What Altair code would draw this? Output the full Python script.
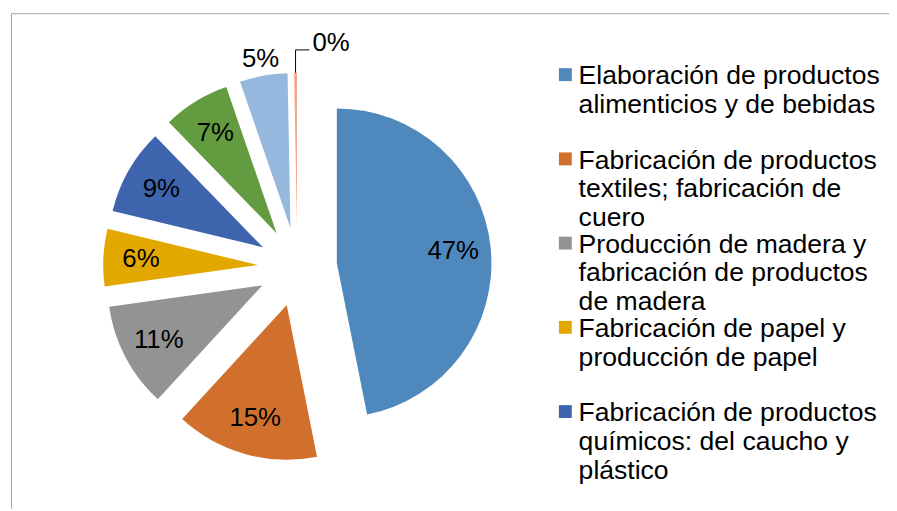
import altair as alt
import pandas as pd

# ---- data ----
categories = [
    "Elaboración de productos\nalimenticios y de bebidas",
    "Fabricación de productos\ntextiles; fabricación de\ncuero",
    "Producción de madera y\nfabricación de productos\nde madera",
    "Fabricación de papel y\nproducción de papel",
    "Fabricación de productos\nquímicos: del caucho y\nplástico",
    "Fabricación de productos minerales no metálicos",
    "Fabricación de metales comunes y productos metálicos",
    "Otras industrias manufactureras",
]
values = [47, 15, 11, 6, 9, 7, 5, 0.3]
colors = ["#4F88BD", "#D1702D", "#939393", "#E2A800",
          "#3E64AE", "#639B40", "#96B8DF", "#F3A48D"]
legend_shown = categories[:5]

# ---- style / layout constants ----
CX, CY = 292, 259      # pie centre (chart pixels)
R = 156                # pie radius
E = 40                 # explosion distance
LR = 118               # label radius inside slice
FONT = "Liberation Sans"

df = pd.DataFrame({"cat": categories, "value": values, "order": list(range(len(values)))})

base = alt.Chart(df).transform_joinaggregate(
    total="sum(value)"
).transform_window(
    cum="sum(value)", sort=[alt.SortField("order")], frame=[None, 0]
).transform_calculate(
    pct="datum.value / datum.total",
    t1="datum.cum / datum.total * 2 * PI",
    t0="(datum.cum - datum.value) / datum.total * 2 * PI",
).transform_calculate(
    mid="(datum.t0 + datum.t1) / 2",
).transform_calculate(
    cx=f"{CX} + {E} * sin(datum.mid)",
    cy=f"{CY} - {E} * cos(datum.mid)",
).transform_calculate(
    lr=f"datum.pct < 0.055 ? {R + 17} : {LR}",
    px=f"datum.cx + {R} * sin(datum.mid)",
    py=f"datum.cy - {R} * cos(datum.mid)",
).transform_calculate(
    lx="datum.cx + datum.lr * sin(datum.mid)",
    ly="datum.cy - datum.lr * cos(datum.mid)",
    qy="datum.py - 23",
    qx="datum.px + 14",
    tx="datum.px + 17",
    ty="datum.py - 30",
)

arcs = base.mark_arc(radius=R).encode(
    theta=alt.Theta("t0:Q", scale=None, stack=False),
    theta2="t1:Q",
    x=alt.X("cx:Q", scale=None, axis=None),
    y=alt.Y("cy:Q", scale=None, axis=None),
    color=alt.Color(
        "cat:N",
        scale=alt.Scale(domain=categories, range=colors),
        sort=None,
        legend=alt.Legend(
            title=None,
            orient="none",
            legendX=549,
            legendY=53.5,
            values=legend_shown,
            labelExpr="split(datum.label + (length(split(datum.label, '\\n')) < 3 ? '\\n ' : ''), '\\n')",
            labelFont=FONT,
            labelFontSize=26.8,
            labelBaseline="middle",
            labelColor="#000000",
            labelLimit=400,
            labelOffset=0,
            symbolType="M-1,-1.3H1V0.7H-1Z",
            symbolSize=169,
            symbolStrokeWidth=0,
            symbolOpacity=1,
            symbolOffset=0,
            rowPadding=0,
            padding=0,
        ),
    ),
)

labels = base.transform_filter("datum.pct >= 0.01").mark_text(
    font=FONT, fontSize=26, color="#000000", align="center", baseline="middle"
).encode(
    x=alt.X("lx:Q", scale=None, axis=None),
    y=alt.Y("ly:Q", scale=None, axis=None),
    text=alt.Text("pct:Q", format=".0%"),
)

tiny = base.transform_filter("datum.pct < 0.01")

tiny_label = tiny.mark_text(
    font=FONT, fontSize=26, color="#000000", align="left", baseline="middle"
).encode(
    x=alt.X("tx:Q", scale=None, axis=None),
    y=alt.Y("ty:Q", scale=None, axis=None),
    text=alt.Text("pct:Q", format=".0%"),
)

leader_v = tiny.mark_rule(color="#000000", strokeWidth=1).encode(
    x=alt.X("px:Q", scale=None, axis=None),
    y=alt.Y("py:Q", scale=None, axis=None),
    y2="qy:Q",
)
leader_h = tiny.mark_rule(color="#000000", strokeWidth=1).encode(
    x=alt.X("px:Q", scale=None, axis=None),
    x2="qx:Q",
    y=alt.Y("qy:Q", scale=None, axis=None),
)

frame_data = alt.Data(values=[{"k": 1}])
frame_top = alt.Chart(frame_data).mark_rule(color="#A0A0A0", strokeWidth=1).encode(
    x=alt.value(3.5), x2=alt.value(889), y=alt.value(3.5)
)
frame_left = alt.Chart(frame_data).mark_rule(color="#A0A0A0", strokeWidth=1).encode(
    x=alt.value(3.5), y=alt.value(3.5), y2=alt.value(503)
)

chart = alt.layer(
    frame_top, frame_left, arcs, labels, leader_v, leader_h, tiny_label
).properties(
    width=889, height=503, autosize="none", padding=0, background="white"
).configure_view(stroke=None)

chart.save("out.html", embed_options={"renderer": "svg", "actions": False})
